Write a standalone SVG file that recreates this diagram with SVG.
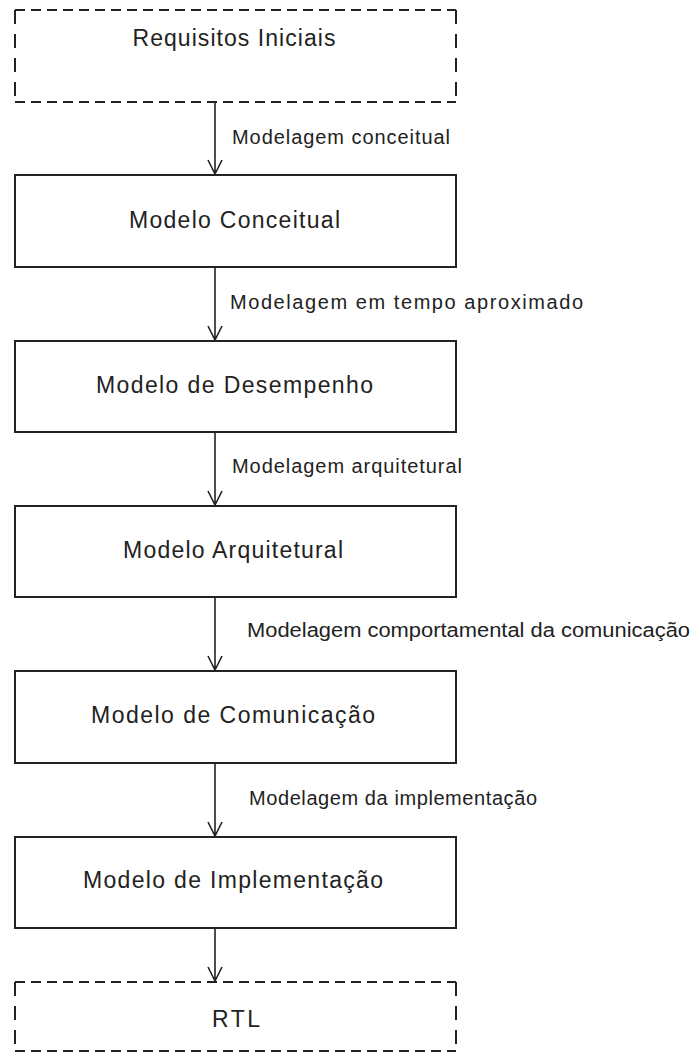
<svg xmlns="http://www.w3.org/2000/svg" width="693" height="1054" viewBox="0 0 693 1054">
  <style>
    .box { fill: #ffffff; stroke: #222222; stroke-width: 2; }
    .dash-h { stroke: #222222; stroke-width: 2; stroke-dasharray: 10 6; fill: none; }
    .dash-v { stroke: #222222; stroke-width: 2; stroke-dasharray: 14 10; fill: none; }
    .node-text { font-family: "Liberation Sans", Arial, sans-serif; font-size: 23px; fill: #222222; text-anchor: middle; }
    .edge-label { font-family: "Liberation Sans", Arial, sans-serif; font-size: 20px; fill: #222222; }
    .conn { stroke: #222222; stroke-width: 1.6; fill: none; }
  </style>
  <rect width="693" height="1054" fill="#ffffff"/>

  <g id="connectors">
    <path class="conn" d="M215,102 V174 M208,160 L215,174 L222,160"/>
    <path class="conn" d="M215,267 V340 M208,326 L215,340 L222,326"/>
    <path class="conn" d="M215,432 V505 M208,491 L215,505 L222,491"/>
    <path class="conn" d="M215,597 V670 M208,656 L215,670 L222,656"/>
    <path class="conn" d="M215,763 V836 M208,822 L215,836 L222,822"/>
    <path class="conn" d="M215,928 V981 M208,967 L215,981 L222,967"/>
    <text class="edge-label" x="232" y="144" textLength="218" lengthAdjust="spacing">Modelagem conceitual</text>
    <text class="edge-label" x="230" y="309" textLength="353" lengthAdjust="spacing">Modelagem em tempo aproximado</text>
    <text class="edge-label" x="232" y="473" textLength="230" lengthAdjust="spacing">Modelagem arquitetural</text>
    <text class="edge-label" x="247" y="637" textLength="443" lengthAdjust="spacingAndGlyphs">Modelagem comportamental da comunicação</text>
    <text class="edge-label" x="249" y="805" textLength="288" lengthAdjust="spacing">Modelagem da implementação</text>
  </g>

  <g id="node-requisitos">
    <line class="dash-h" x1="15" y1="10" x2="456" y2="10"/>
    <line class="dash-h" x1="15" y1="102" x2="456" y2="102"/>
    <line class="dash-v" x1="15" y1="10" x2="15" y2="102"/>
    <line class="dash-v" x1="456" y1="10" x2="456" y2="102"/>
    <text class="node-text" x="234" y="46" textLength="203" lengthAdjust="spacing">Requisitos Iniciais</text>
  </g>

  <g id="node-conceitual">
    <rect class="box" x="15" y="175" width="441" height="92"/>
    <text class="node-text" x="234.5" y="228" textLength="211" lengthAdjust="spacing">Modelo Conceitual</text>
  </g>

  <g id="node-desempenho">
    <rect class="box" x="15" y="341" width="441" height="91"/>
    <text class="node-text" x="234.5" y="393" textLength="277" lengthAdjust="spacing">Modelo de Desempenho</text>
  </g>

  <g id="node-arquitetural">
    <rect class="box" x="15" y="506" width="441" height="91"/>
    <text class="node-text" x="233" y="558" textLength="220" lengthAdjust="spacing">Modelo Arquitetural</text>
  </g>

  <g id="node-comunicacao">
    <rect class="box" x="15" y="671" width="441" height="92"/>
    <text class="node-text" x="233" y="723" textLength="284" lengthAdjust="spacing">Modelo de Comunicação</text>
  </g>

  <g id="node-implementacao">
    <rect class="box" x="15" y="837" width="441" height="91"/>
    <text class="node-text" x="233" y="888" textLength="300" lengthAdjust="spacing">Modelo de Implementação</text>
  </g>

  <g id="node-rtl">
    <line class="dash-h" x1="15" y1="982" x2="456" y2="982"/>
    <line class="dash-h" x1="15" y1="1051" x2="456" y2="1051"/>
    <line class="dash-v" x1="15" y1="982" x2="15" y2="1051"/>
    <line class="dash-v" x1="456" y1="982" x2="456" y2="1051"/>
    <text class="node-text" x="236" y="1027" textLength="48" lengthAdjust="spacing">RTL</text>
  </g>
</svg>
